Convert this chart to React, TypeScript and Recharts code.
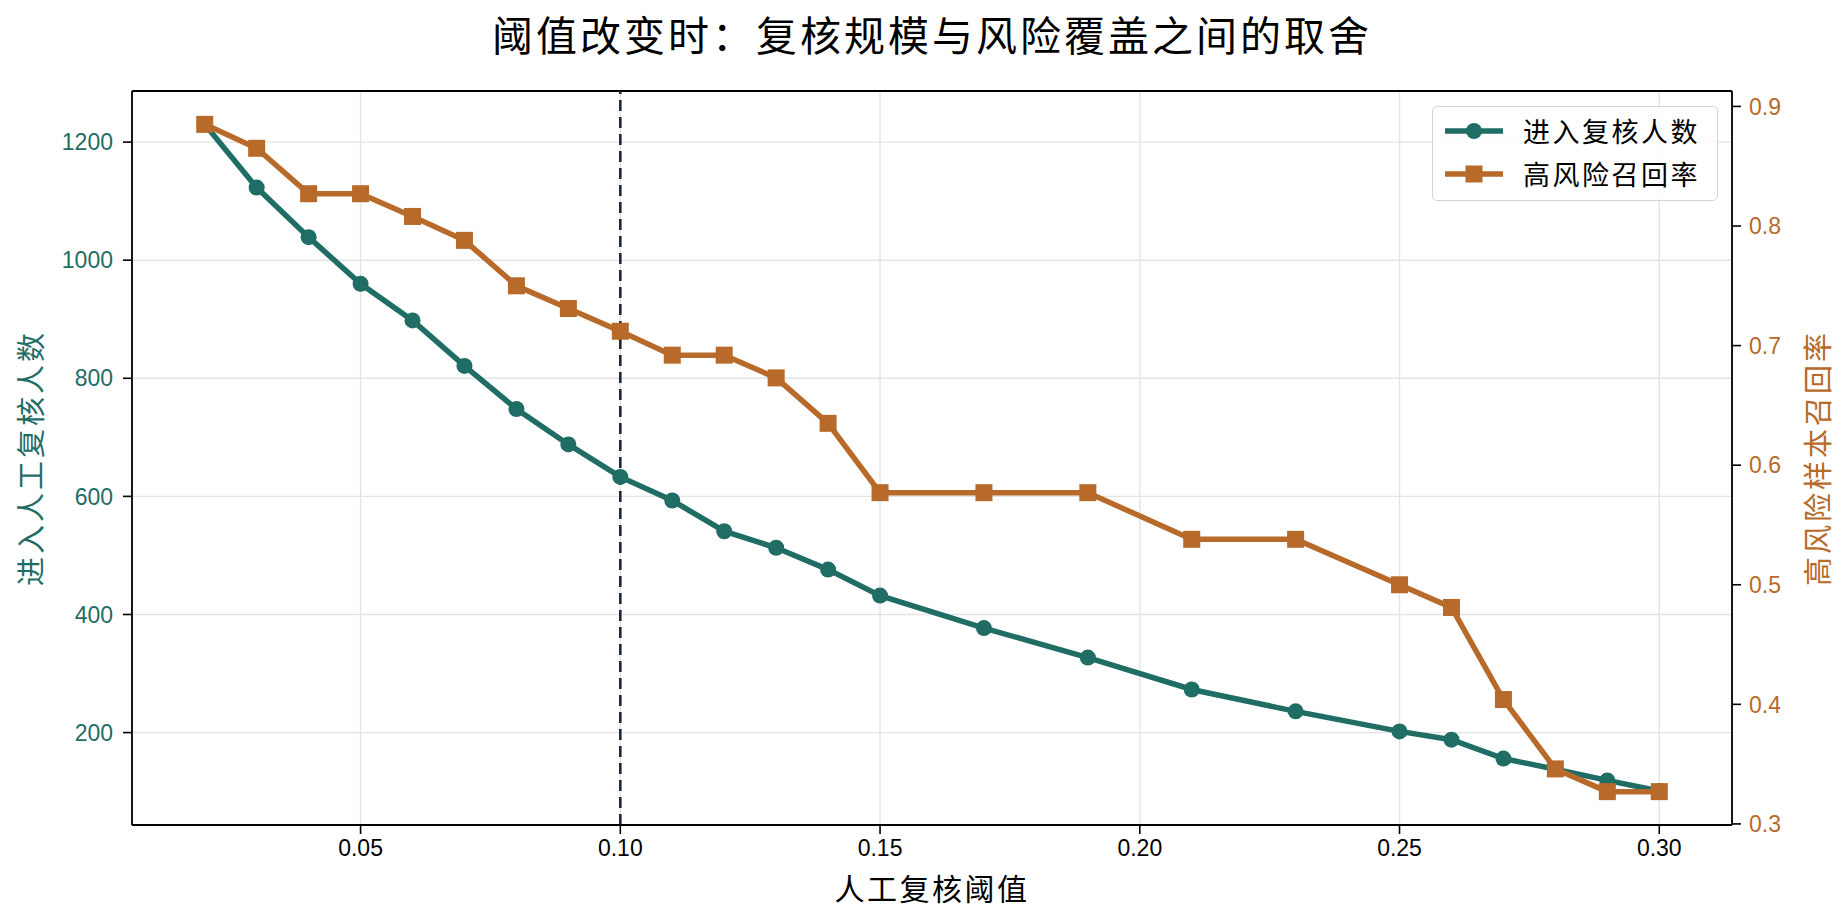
import { LineChart, Line, XAxis, YAxis, CartesianGrid, ReferenceLine } from 'recharts'

const thresholds = [0.02, 0.03, 0.04, 0.05, 0.06, 0.07, 0.08, 0.09, 0.1, 0.11, 0.12, 0.13, 0.14, 0.15, 0.17, 0.19, 0.21, 0.23, 0.25, 0.26, 0.27, 0.28, 0.29, 0.3]
const reviewCounts = [1230, 1123, 1039, 960, 898, 821, 748, 688, 633, 593, 541, 513, 476, 432, 377, 327, 273, 236, 202, 188, 156, 138, 119, 101]
const highRiskRecall = [0.885, 0.865, 0.827, 0.827, 0.808, 0.788, 0.75, 0.731, 0.712, 0.692, 0.692, 0.673, 0.635, 0.577, 0.577, 0.577, 0.538, 0.538, 0.5, 0.481, 0.404, 0.346, 0.327, 0.327]

const xTicks = [0.05, 0.1, 0.15, 0.2, 0.25, 0.3]
const countTicks = [200, 400, 600, 800, 1000, 1200]
const recallTicks = [0.3, 0.4, 0.5, 0.6, 0.7, 0.8, 0.9]
const chosenThreshold = 0.1
const countDomain = [43.5, 1286.5]

const TEAL = '#1f6d64'
const ORANGE = '#b76a2a'
const FONT = '"Liberation Sans", "Noto Sans CJK SC", sans-serif'
const CJK = '"Noto Sans CJK SC", "Liberation Sans", sans-serif'

const data = thresholds.map((t, i) => ({ t, count: reviewCounts[i], recall: highRiskRecall[i] }))

const SquareDot = (props: any) => {
  const { cx, cy } = props
  if (cx == null || cy == null) return null
  return <rect x={cx - 8.5} y={cy - 8.5} width={17} height={17} fill={ORANGE} />
}

export default function App() {
  const axisLine = { stroke: '#000', strokeWidth: 1.8 }
  const tickLine = { stroke: '#000', strokeWidth: 1.6 }
  return (
    <div style={{ position: 'absolute', left: 0, top: 0, width: 1842, height: 924, background: '#fff' }}>
      <div
        style={{
          position: 'absolute', left: 132, top: 8, width: 1600, textAlign: 'center',
          fontFamily: CJK, fontSize: 41, lineHeight: '50px', letterSpacing: 3, color: '#000',
        }}
      >
        阈值改变时：复核规模与风险覆盖之间的取舍
      </div>
      <LineChart width={1842} height={924} data={data} margin={{ top: 91, right: 0, bottom: 0, left: 0 }}>
        <CartesianGrid yAxisId="left" stroke="#e4e4e4" strokeWidth={1.4} />
        <XAxis
          dataKey="t" type="number" domain={[0.006, 0.314]} ticks={xTicks} height={99}
          tickFormatter={(v: number) => v.toFixed(2)} axisLine={axisLine} tickLine={tickLine}
          tickSize={9} tickMargin={6} tick={{ fill: '#000', fontSize: 23, fontFamily: FONT }}
          label={{
            content: ({ viewBox }: any) => (
              <text x={viewBox.x + viewBox.width / 2} y={viewBox.y + 62} textAnchor="middle"
                dominantBaseline="central" fontFamily={CJK} fontSize={30} letterSpacing={2.5} fill="#000">
                人工复核阈值
              </text>
            ),
          }}
        />
        <YAxis
          yAxisId="left" width={132} domain={countDomain} ticks={countTicks}
          axisLine={axisLine} tickLine={tickLine} tickSize={9} tickMargin={10}
          tick={{ fill: TEAL, fontSize: 23, fontFamily: FONT }}
          label={{
            content: ({ viewBox }: any) => {
              const x = viewBox.x + 29
              const y = viewBox.y + viewBox.height / 2
              return (
                <text x={x} y={y} transform={`rotate(-90, ${x}, ${y})`} textAnchor="middle"
                  dominantBaseline="central" fontFamily={CJK} fontSize={29} letterSpacing={3} fill={TEAL}>
                  进入人工复核人数
                </text>
              )
            },
          }}
        />
        <YAxis
          yAxisId="right" orientation="right" width={110} domain={[0.2991, 0.9129]} ticks={recallTicks}
          tickFormatter={(v: number) => v.toFixed(1)}
          axisLine={axisLine} tickLine={tickLine} tickSize={9} tickMargin={8}
          tick={{ fill: ORANGE, fontSize: 23, fontFamily: FONT }}
          label={{
            content: ({ viewBox }: any) => {
              const x = viewBox.x + 84
              const y = viewBox.y + viewBox.height / 2
              return (
                <text x={x} y={y} transform={`rotate(-90, ${x}, ${y})`} textAnchor="middle"
                  dominantBaseline="central" fontFamily={CJK} fontSize={29} letterSpacing={3} fill={ORANGE}>
                  高风险样本召回率
                </text>
              )
            },
          }}
        />
        <ReferenceLine yAxisId="left" y={countDomain[1]} stroke="#000" strokeWidth={1.8} />
        <Line yAxisId="left" dataKey="count" type="linear" stroke={TEAL} strokeWidth={5.5}
          dot={{ r: 8, fill: TEAL, stroke: TEAL, strokeWidth: 0 }} isAnimationActive={false} />
        <Line yAxisId="right" dataKey="recall" type="linear" stroke={ORANGE} strokeWidth={5.5}
          dot={<SquareDot />} isAnimationActive={false} />
        <ReferenceLine yAxisId="left" x={chosenThreshold} stroke="#1e2838" strokeWidth={2.6} strokeDasharray="11 6" />
      </LineChart>
      <div
        style={{
          position: 'absolute', left: 1432, top: 106, width: 286, height: 95, boxSizing: 'border-box',
          border: '1.5px solid #d4d4d4', borderRadius: 5, background: 'rgba(255,255,255,0.85)',
          fontFamily: CJK, fontSize: 27, letterSpacing: 2.5, color: '#000',
        }}
      >
        {[
          { name: '进入复核人数', color: TEAL, shape: 'circle' },
          { name: '高风险召回率', color: ORANGE, shape: 'square' },
        ].map((item, i) => (
          <div key={item.name} style={{ position: 'absolute', left: 10, top: 7 + i * 43, height: 34, display: 'flex', alignItems: 'center' }}>
            <svg width={62} height={34}>
              <line x1={2} x2={60} y1={17} y2={17} stroke={item.color} strokeWidth={5.5} />
              {item.shape === 'circle'
                ? <circle cx={31} cy={17} r={8} fill={item.color} />
                : <rect x={22.5} y={8.5} width={17} height={17} fill={item.color} />}
            </svg>
            <span style={{ marginLeft: 18, lineHeight: '34px' }}>{item.name}</span>
          </div>
        ))}
      </div>
    </div>
  )
}
